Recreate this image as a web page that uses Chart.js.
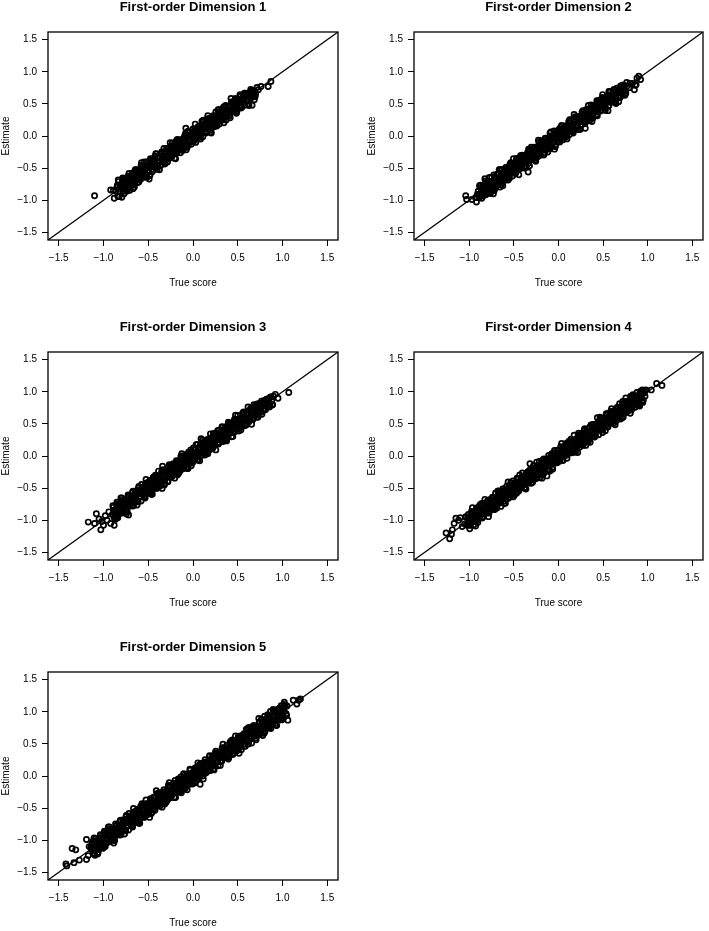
<!DOCTYPE html>
<html>
<head>
<meta charset="utf-8">
<script src="https://cdn.jsdelivr.net/npm/chart.js@4.4.1/dist/chart.umd.min.js"></script>
<style>
  body { margin: 0; background: #fff; width: 709px; height: 931px; position: relative; overflow: hidden; }
  canvas { position: absolute; }
</style>
</head>
<body>
<canvas id="p1" width="344" height="291" style="left:0;top:0"></canvas>
<canvas id="p2" width="343" height="291" style="left:366px;top:0"></canvas>
<canvas id="p3" width="344" height="291" style="left:0;top:320px"></canvas>
<canvas id="p4" width="343" height="291" style="left:366px;top:320px"></canvas>
<canvas id="p5" width="344" height="291" style="left:0;top:640px"></canvas>
<script>
// axis setup shared by all panels
const axisMin = -1.62, axisMax = 1.62;
const tickValues = [-1.5, -1, -0.5, 0, 0.5, 1, 1.5];
const diagonal = [-1.62, 1.62];
const panelTitles = ["First-order Dimension 1", "First-order Dimension 2", "First-order Dimension 3",
  "First-order Dimension 4", "First-order Dimension 5"];
const xTitle = "True score";
const yTitle = "Estimate";

// [true score, estimate]
const dim1 = [[-1.10,-0.93],[-0.92,-0.84],[-0.88,-0.97],[-0.89,-0.85],[-0.77,-0.90],[-0.67,-0.82],[-0.49,-0.67],[-0.08,0.12],[0.66,0.48],[0.73,0.72],[0.76,0.77],[0.84,0.77],[0.87,0.85],
[-0.86,-0.86],[-0.85,-0.80],[-0.84,-0.94],[-0.83,-0.71],[-0.82,-0.87],[-0.81,-0.79],[-0.80,-0.81],[-0.79,-0.70],[-0.78,-0.86],[-0.77,-0.66],[-0.76,-0.80],[-0.75,-0.69],[-0.74,-0.86],[-0.73,-0.70],[-0.72,-0.65],[-0.71,-0.73],[-0.70,-0.79],[-0.69,-0.65],[-0.68,-0.58],[-0.67,-0.73],[-0.66,-0.62],[-0.65,-0.72],[-0.64,-0.54],[-0.63,-0.65],[-0.62,-0.73],[-0.61,-0.55],[-0.60,-0.59],[-0.59,-0.64],[-0.58,-0.46],[-0.57,-0.66],[-0.56,-0.53],[-0.55,-0.47],[-0.54,-0.57],[-0.53,-0.63],[-0.52,-0.47],[-0.51,-0.40],[-0.50,-0.56],[-0.49,-0.49],[-0.48,-0.61],[-0.47,-0.40],[-0.46,-0.47],[-0.45,-0.36],[-0.44,-0.52],[-0.43,-0.41],[-0.42,-0.46],[-0.41,-0.28],[-0.40,-0.52],[-0.39,-0.33],[-0.38,-0.40],[-0.37,-0.34],[-0.36,-0.45],[-0.35,-0.25],[-0.34,-0.40],[-0.33,-0.32],[-0.32,-0.25],[-0.31,-0.42],[-0.30,-0.26],[-0.29,-0.32],[-0.28,-0.20],[-0.27,-0.34],[-0.26,-0.26],[-0.25,-0.20],[-0.24,-0.34],[-0.23,-0.11],[-0.22,-0.27],[-0.21,-0.19],[-0.20,-0.21],[-0.19,-0.10],[-0.18,-0.26],[-0.17,-0.06],[-0.16,-0.20],[-0.15,-0.09],[-0.14,-0.26],[-0.13,-0.10],[-0.12,-0.05],[-0.11,-0.13],[-0.10,-0.19],[-0.09,-0.05],[-0.08,0.02],[-0.07,-0.13],[-0.06,-0.02],[-0.05,-0.12],[-0.04,0.06],[-0.03,-0.05],[-0.02,-0.13],[-0.01,0.05],
[0.00,0.11],[0.01,-0.05],[0.02,0.02],[0.03,-0.10],[0.04,0.11],[0.05,0.04],[0.06,0.15],[0.07,-0.01],[0.08,0.10],[0.09,0.05],[0.10,0.23],[0.11,-0.01],[0.12,0.18],[0.13,0.11],[0.14,0.17],[0.15,0.06],[0.16,0.26],[0.17,0.11],[0.18,0.19],[0.19,0.26],[0.20,0.09],[0.21,0.25],[0.22,0.19],[0.23,0.31],[0.24,0.17],[0.25,0.25],[0.26,0.31],[0.27,0.17],[0.28,0.40],[0.29,0.24],[0.30,0.32],[0.31,0.30],[0.32,0.41],[0.33,0.25],[0.34,0.45],[0.35,0.31],[0.36,0.42],[0.37,0.25],[0.38,0.41],[0.39,0.46],[0.40,0.38],[0.41,0.32],[0.42,0.46],[0.43,0.53],[0.44,0.38],[0.45,0.49],[0.46,0.39],[0.47,0.57],[0.48,0.46],[0.49,0.38],[0.50,0.56],[0.51,0.52],[0.52,0.47],[0.53,0.62],[0.54,0.45],[0.55,0.58],[0.56,0.64],[0.57,0.54],[0.58,0.48],[0.59,0.64],[0.60,0.62],[0.61,0.55],[0.62,0.66],[0.63,0.60],[0.64,0.65],[0.66,0.61],[0.68,0.70],[0.70,0.66]];
const dim1Fill = [[-0.845,-0.765],[-0.825,-0.945],[-0.805,-0.775],[-0.785,-0.655],[-0.765,-0.825],[-0.745,-0.755],[-0.725,-0.625],[-0.705,-0.845],[-0.685,-0.635],[-0.665,-0.755],[-0.645,-0.525],[-0.625,-0.625],[-0.605,-0.715],[-0.585,-0.515],[-0.565,-0.605],[-0.545,-0.405],[-0.525,-0.605],[-0.505,-0.485],[-0.485,-0.615],[-0.465,-0.375],[-0.445,-0.475],[-0.425,-0.315],[-0.405,-0.475],[-0.385,-0.325],[-0.365,-0.465],[-0.345,-0.335],[-0.325,-0.195],[-0.305,-0.355],[-0.285,-0.405],[-0.265,-0.225],[-0.245,-0.155],[-0.225,-0.245],[-0.205,-0.345],[-0.185,-0.075],[-0.165,-0.225],[-0.145,-0.075],[-0.125,-0.215],[-0.105,-0.075],[-0.085,0.035],[-0.065,-0.175],[-0.045,0.005],[-0.025,-0.065],[-0.005,0.095],[0.015,-0.065],[0.035,0.035],[0.055,0.135],[0.075,-0.045],[0.095,0.125],[0.115,0.245],[0.135,0.075],[0.155,0.145],[0.175,0.275],[0.195,0.055],[0.215,0.265],[0.235,0.145],[0.255,0.375],[0.275,0.275],[0.295,0.185],[0.315,0.385],[0.335,0.295],[0.355,0.465],[0.375,0.295],[0.395,0.415],[0.415,0.285],[0.435,0.525],[0.455,0.425],[0.475,0.585],[0.495,0.425],[0.515,0.575],[0.535,0.435],[0.555,0.565],[0.575,0.665],[0.595,0.545],[0.615,0.495],[0.635,0.675],[0.655,0.705],[0.675,0.655],[0.695,0.615],[0.715,0.755],
[-0.835,-0.685],[-0.815,-0.855],[-0.795,-0.955],[-0.775,-0.685],[-0.755,-0.735],[-0.735,-0.845],[-0.715,-0.585],[-0.695,-0.765],[-0.675,-0.625],[-0.655,-0.795],[-0.635,-0.525],[-0.615,-0.625],[-0.595,-0.685],[-0.575,-0.415],[-0.555,-0.605],[-0.535,-0.465],[-0.515,-0.645],[-0.495,-0.465],[-0.475,-0.355],[-0.455,-0.555],[-0.435,-0.435],[-0.415,-0.275],[-0.395,-0.455],[-0.375,-0.525],[-0.355,-0.275],[-0.335,-0.295],[-0.315,-0.435],[-0.295,-0.195],[-0.275,-0.305],[-0.255,-0.105],[-0.235,-0.315],[-0.215,-0.205],[-0.195,-0.355],[-0.175,-0.055],[-0.155,-0.175],[-0.135,-0.075],[-0.115,-0.225],[-0.095,-0.005],[-0.075,-0.215],[-0.055,0.075],[-0.035,-0.085],[-0.015,0.005],[0.005,-0.085],[0.025,0.185],[0.045,-0.025],[0.065,0.115],[0.085,-0.045],[0.105,0.215],[0.125,0.115],[0.145,0.045],[0.165,0.315],[0.185,0.145],[0.205,0.045],[0.225,0.315],[0.245,0.265],[0.265,0.155],[0.285,0.415],[0.305,0.235],[0.325,0.375],[0.345,0.205],[0.365,0.475],[0.385,0.375],[0.405,0.315],[0.425,0.585],[0.445,0.395],[0.465,0.535],[0.485,0.355],[0.505,0.535],[0.525,0.645],[0.545,0.445],[0.565,0.565],[0.585,0.665],[0.605,0.545],[0.625,0.475],[0.645,0.725],[0.665,0.705],[0.685,0.565]];
const dim1Core = [[-0.815,-0.765],[-0.795,-0.825],[-0.775,-0.695],[-0.755,-0.825],[-0.735,-0.725],[-0.715,-0.805],[-0.695,-0.635],[-0.675,-0.695],[-0.655,-0.565],[-0.635,-0.685],[-0.615,-0.585],[-0.595,-0.675],[-0.575,-0.575],[-0.555,-0.485],[-0.535,-0.575],[-0.515,-0.495],[-0.495,-0.555],[-0.475,-0.385],[-0.455,-0.465],[-0.435,-0.395],[-0.415,-0.505],[-0.395,-0.335],[-0.375,-0.405],[-0.355,-0.275],[-0.335,-0.405],[-0.315,-0.305],[-0.295,-0.245],[-0.275,-0.355],[-0.255,-0.225],[-0.235,-0.255],[-0.215,-0.145],[-0.195,-0.245],[-0.175,-0.175],[-0.155,-0.065],[-0.135,-0.195],[-0.115,-0.095],[-0.095,-0.135],[-0.075,-0.015],[-0.055,-0.145],[-0.035,0.005],[-0.015,0.035],[0.005,-0.025],[0.025,0.105],[0.045,-0.025],[0.065,0.075],[0.085,-0.005],[0.105,0.165],[0.125,0.105],[0.145,0.235],[0.165,0.115],[0.185,0.215],[0.205,0.125],[0.225,0.225],[0.245,0.315],[0.265,0.225],[0.285,0.305],[0.305,0.245],[0.325,0.415],[0.345,0.335],[0.365,0.405],[0.385,0.295],[0.405,0.465],[0.425,0.395],[0.445,0.525],[0.465,0.395],[0.485,0.495],[0.505,0.555],[0.525,0.445],[0.545,0.575],[0.565,0.545],[0.585,0.655],[0.605,0.555],[0.625,0.625],[0.645,0.695],[0.665,0.605],[0.685,0.705]];

const dim2 = [[-1.04,-0.93],[-1.03,-0.99],[-0.97,-0.99],[-0.92,-1.03],[-0.93,-0.96],[-0.91,-0.91],[-0.73,-0.90],[-0.34,-0.56],[0.30,0.12],[0.80,0.82],[0.83,0.82],[0.85,0.72],[0.86,0.79],[0.87,0.80],[0.88,0.90],[0.90,0.93],[0.92,0.88],
[-0.90,-0.86],[-0.89,-0.96],[-0.88,-0.78],[-0.87,-0.89],[-0.86,-0.97],[-0.85,-0.79],[-0.84,-0.83],[-0.83,-0.88],[-0.82,-0.70],[-0.81,-0.90],[-0.80,-0.77],[-0.79,-0.71],[-0.78,-0.81],[-0.77,-0.87],[-0.76,-0.71],[-0.75,-0.64],[-0.74,-0.80],[-0.73,-0.73],[-0.72,-0.85],[-0.71,-0.64],[-0.70,-0.71],[-0.69,-0.60],[-0.68,-0.76],[-0.67,-0.65],[-0.66,-0.70],[-0.65,-0.52],[-0.64,-0.76],[-0.63,-0.57],[-0.62,-0.64],[-0.61,-0.58],[-0.60,-0.69],[-0.59,-0.49],[-0.58,-0.64],[-0.57,-0.56],[-0.56,-0.49],[-0.55,-0.66],[-0.54,-0.50],[-0.53,-0.56],[-0.52,-0.44],[-0.51,-0.58],[-0.50,-0.50],[-0.49,-0.44],[-0.48,-0.58],[-0.47,-0.35],[-0.46,-0.51],[-0.45,-0.43],[-0.44,-0.45],[-0.43,-0.34],[-0.42,-0.50],[-0.41,-0.30],[-0.40,-0.44],[-0.39,-0.33],[-0.38,-0.50],[-0.37,-0.34],[-0.36,-0.29],[-0.35,-0.37],[-0.34,-0.43],[-0.33,-0.29],[-0.32,-0.22],[-0.31,-0.37],
[-0.30,-0.26],[-0.29,-0.36],[-0.28,-0.18],[-0.27,-0.29],[-0.26,-0.37],[-0.25,-0.19],[-0.24,-0.23],[-0.23,-0.28],[-0.22,-0.10],[-0.21,-0.30],[-0.20,-0.17],[-0.19,-0.11],[-0.18,-0.21],[-0.17,-0.27],[-0.16,-0.11],[-0.15,-0.04],[-0.14,-0.20],[-0.13,-0.13],[-0.12,-0.25],[-0.11,-0.04],[-0.10,-0.11],[-0.09,0.00],[-0.08,-0.16],[-0.07,-0.05],[-0.06,-0.10],[-0.05,0.08],[-0.04,-0.16],[-0.03,0.03],[-0.02,-0.04],[-0.01,0.02],[0.00,-0.09],[0.01,0.11],[0.02,-0.04],[0.03,0.04],[0.04,0.11],[0.05,-0.06],[0.06,0.10],[0.07,0.04],[0.08,0.16],[0.09,0.02],[0.10,0.10],[0.11,0.16],[0.12,0.02],[0.13,0.25],[0.14,0.09],[0.15,0.17],[0.16,0.15],[0.17,0.26],[0.18,0.10],[0.19,0.30],[0.20,0.16],[0.21,0.27],[0.22,0.10],[0.23,0.26],[0.24,0.31],[0.25,0.23],[0.26,0.17],[0.27,0.31],[0.28,0.38],[0.29,0.23],
[0.30,0.21],[0.31,0.41],[0.32,0.26],[0.33,0.34],[0.34,0.41],[0.35,0.24],[0.36,0.40],[0.37,0.34],[0.38,0.46],[0.39,0.32],[0.40,0.40],[0.41,0.46],[0.42,0.32],[0.43,0.55],[0.44,0.39],[0.45,0.47],[0.46,0.45],[0.47,0.56],[0.48,0.40],[0.49,0.60],[0.50,0.46],[0.51,0.57],[0.52,0.40],[0.53,0.56],[0.54,0.61],[0.55,0.53],[0.56,0.47],[0.57,0.61],[0.58,0.68],[0.59,0.53],[0.60,0.64],[0.61,0.54],[0.62,0.72],[0.63,0.61],[0.64,0.53],[0.65,0.71],[0.66,0.67],[0.67,0.62],[0.68,0.71],[0.69,0.60],[0.70,0.73],[0.71,0.68],[0.72,0.64],[0.73,0.75],[0.75,0.70],[0.77,0.78],[0.79,0.75]];
const dim2Fill = [[-0.895,-0.925],[-0.875,-0.765],[-0.855,-0.925],[-0.835,-0.775],[-0.815,-0.915],[-0.795,-0.785],[-0.775,-0.645],[-0.755,-0.805],[-0.735,-0.855],[-0.715,-0.675],[-0.695,-0.605],[-0.675,-0.695],[-0.655,-0.795],[-0.635,-0.525],[-0.615,-0.675],[-0.595,-0.525],[-0.575,-0.665],[-0.555,-0.525],[-0.535,-0.415],[-0.515,-0.625],[-0.495,-0.445],[-0.475,-0.515],[-0.455,-0.355],[-0.435,-0.515],[-0.415,-0.415],[-0.395,-0.315],[-0.375,-0.495],[-0.355,-0.325],[-0.335,-0.205],[-0.315,-0.375],[-0.295,-0.305],[-0.275,-0.175],[-0.255,-0.395],[-0.235,-0.185],[-0.215,-0.305],[-0.195,-0.075],[-0.175,-0.175],[-0.155,-0.265],[-0.135,-0.065],[-0.115,-0.155],[-0.095,0.045],[-0.075,-0.155],[-0.055,-0.035],[-0.035,-0.165],[-0.015,0.075],[0.005,-0.025],[0.025,0.135],[0.045,-0.025],[0.065,0.125],[0.085,-0.015],[0.105,0.115],[0.125,0.255],[0.145,0.095],[0.165,0.045],[0.185,0.225],[0.205,0.295],[0.225,0.205],[0.245,0.105],[0.265,0.375],[0.285,0.225],[0.305,0.375],[0.325,0.235],[0.345,0.375],[0.365,0.485],[0.385,0.275],[0.405,0.455],[0.425,0.385],[0.445,0.545],[0.465,0.385],[0.485,0.485],[0.505,0.585],[0.525,0.405],[0.545,0.575],[0.565,0.695],[0.585,0.525],[0.605,0.595],[0.625,0.725],[0.645,0.505],[0.665,0.715],[0.685,0.595],[0.705,0.785],[0.725,0.725],[0.745,0.635],[0.765,0.835],
[-0.885,-0.775],[-0.865,-0.875],[-0.845,-0.935],[-0.825,-0.665],[-0.805,-0.855],[-0.785,-0.715],[-0.765,-0.895],[-0.745,-0.715],[-0.725,-0.605],[-0.705,-0.805],[-0.685,-0.685],[-0.665,-0.525],[-0.645,-0.705],[-0.625,-0.775],[-0.605,-0.525],[-0.585,-0.545],[-0.565,-0.685],[-0.545,-0.445],[-0.525,-0.555],[-0.505,-0.355],[-0.485,-0.565],[-0.465,-0.455],[-0.445,-0.605],[-0.425,-0.305],[-0.405,-0.425],[-0.385,-0.325],[-0.365,-0.475],[-0.345,-0.255],[-0.325,-0.465],[-0.305,-0.175],[-0.285,-0.335],[-0.265,-0.245],[-0.245,-0.335],[-0.225,-0.065],[-0.205,-0.275],[-0.185,-0.135],[-0.165,-0.295],[-0.145,-0.035],[-0.125,-0.135],[-0.105,-0.205],[-0.085,0.065],[-0.065,-0.105],[-0.045,-0.205],[-0.025,0.065],[-0.005,0.015],[0.015,-0.095],[0.035,0.165],[0.055,-0.015],[0.075,0.125],[0.095,-0.045],[0.115,0.225],[0.135,0.125],[0.155,0.065],[0.175,0.335],[0.195,0.145],[0.215,0.285],[0.235,0.105],[0.255,0.285],[0.275,0.395],[0.295,0.195],[0.315,0.315],[0.335,0.475],[0.355,0.295],[0.375,0.225],[0.395,0.475],[0.415,0.455],[0.435,0.315],[0.455,0.555],[0.475,0.445],[0.495,0.645],[0.515,0.435],[0.535,0.545],[0.555,0.395],[0.575,0.695],[0.595,0.575],[0.615,0.675],[0.635,0.525],[0.655,0.745],[0.675,0.535],[0.695,0.775],[0.715,0.665],[0.735,0.755],[0.755,0.665]];
const dim2Core = [[-0.875,-0.805],[-0.855,-0.895],[-0.835,-0.815],[-0.815,-0.875],[-0.795,-0.705],[-0.775,-0.785],[-0.755,-0.715],[-0.735,-0.825],[-0.715,-0.655],[-0.695,-0.725],[-0.675,-0.595],[-0.655,-0.725],[-0.635,-0.625],[-0.615,-0.565],[-0.595,-0.675],[-0.575,-0.545],[-0.555,-0.575],[-0.535,-0.465],[-0.515,-0.565],[-0.495,-0.495],[-0.475,-0.385],[-0.455,-0.515],[-0.435,-0.415],[-0.415,-0.455],[-0.395,-0.335],[-0.375,-0.465],[-0.355,-0.315],[-0.335,-0.285],[-0.315,-0.345],[-0.295,-0.215],[-0.275,-0.345],[-0.255,-0.245],[-0.235,-0.325],[-0.215,-0.155],[-0.195,-0.215],[-0.175,-0.085],[-0.155,-0.205],[-0.135,-0.105],[-0.115,-0.195],[-0.095,-0.095],[-0.075,-0.005],[-0.055,-0.095],[-0.035,-0.015],[-0.015,-0.075],[0.005,0.095],[0.025,0.015],[0.045,0.085],[0.065,-0.025],[0.085,0.145],[0.105,0.075],[0.125,0.205],[0.145,0.075],[0.165,0.175],[0.185,0.235],[0.205,0.125],[0.225,0.255],[0.245,0.225],[0.265,0.335],[0.285,0.235],[0.305,0.305],[0.325,0.415],[0.345,0.285],[0.365,0.385],[0.385,0.345],[0.405,0.465],[0.425,0.335],[0.445,0.485],[0.465,0.515],[0.485,0.455],[0.505,0.585],[0.525,0.455],[0.545,0.555],[0.565,0.475],[0.585,0.645],[0.605,0.585],[0.625,0.715],[0.645,0.595],[0.665,0.695],[0.685,0.605],[0.705,0.705],[0.725,0.795],[0.745,0.705]];

const dim3 = [[-1.17,-1.03],[-1.10,-1.05],[-1.08,-0.90],[-1.05,-0.98],[-1.03,-1.15],[-1.02,-1.02],[-1.00,-1.08],[-0.98,-0.93],[-0.96,-1.00],[-0.94,-0.87],[-0.92,-1.05],[-0.88,-1.08],[-0.72,-0.92],[-0.34,-0.16],[0.09,0.27],[0.90,0.93],[0.92,0.96],[0.95,0.90],[1.07,0.99],
[-0.90,-0.91],[-0.89,-0.80],[-0.88,-0.96],[-0.87,-0.85],[-0.86,-0.90],[-0.85,-0.72],[-0.84,-0.96],[-0.83,-0.77],[-0.82,-0.84],[-0.81,-0.78],[-0.80,-0.89],[-0.79,-0.69],[-0.78,-0.84],[-0.77,-0.76],[-0.76,-0.69],[-0.75,-0.86],[-0.74,-0.70],[-0.73,-0.76],[-0.72,-0.64],[-0.71,-0.78],[-0.70,-0.70],[-0.69,-0.64],[-0.68,-0.78],[-0.67,-0.55],[-0.66,-0.71],[-0.65,-0.63],[-0.64,-0.65],[-0.63,-0.54],[-0.62,-0.70],[-0.61,-0.50],[-0.60,-0.64],[-0.59,-0.53],[-0.58,-0.70],[-0.57,-0.54],[-0.56,-0.49],[-0.55,-0.57],[-0.54,-0.63],[-0.53,-0.49],[-0.52,-0.42],[-0.51,-0.57],[-0.50,-0.46],[-0.49,-0.56],[-0.48,-0.38],[-0.47,-0.49],[-0.46,-0.57],[-0.45,-0.39],[-0.44,-0.43],[-0.43,-0.48],[-0.42,-0.30],[-0.41,-0.50],[-0.40,-0.37],[-0.39,-0.31],[-0.38,-0.41],[-0.37,-0.47],[-0.36,-0.31],[-0.35,-0.24],[-0.34,-0.40],[-0.33,-0.33],[-0.32,-0.45],[-0.31,-0.24],
[-0.30,-0.34],[-0.29,-0.23],[-0.28,-0.40],[-0.27,-0.24],[-0.26,-0.19],[-0.25,-0.27],[-0.24,-0.33],[-0.23,-0.19],[-0.22,-0.12],[-0.21,-0.27],[-0.20,-0.16],[-0.19,-0.26],[-0.18,-0.08],[-0.17,-0.19],[-0.16,-0.27],[-0.15,-0.09],[-0.14,-0.13],[-0.13,-0.18],[-0.12,0.00],[-0.11,-0.20],[-0.10,-0.07],[-0.09,-0.01],[-0.08,-0.11],[-0.07,-0.17],[-0.06,-0.01],[-0.05,0.06],[-0.04,-0.10],[-0.03,-0.03],[-0.02,-0.15],[-0.01,0.06],[0.00,-0.01],[0.01,0.10],[0.02,-0.06],[0.03,0.05],[0.04,0.00],[0.05,0.18],[0.06,-0.06],[0.07,0.13],[0.08,0.06],[0.09,0.12],[0.10,0.01],[0.11,0.21],[0.12,0.06],[0.13,0.14],[0.14,0.21],[0.15,0.04],[0.16,0.20],[0.17,0.14],[0.18,0.26],[0.19,0.12],[0.20,0.20],[0.21,0.26],[0.22,0.12],[0.23,0.35],[0.24,0.19],[0.25,0.27],[0.26,0.25],[0.27,0.36],[0.28,0.20],[0.29,0.40],
[0.30,0.36],[0.31,0.32],[0.32,0.27],[0.33,0.45],[0.34,0.25],[0.35,0.38],[0.36,0.44],[0.37,0.34],[0.38,0.28],[0.39,0.44],[0.40,0.51],[0.41,0.35],[0.42,0.42],[0.43,0.30],[0.44,0.51],[0.45,0.44],[0.46,0.55],[0.47,0.39],[0.48,0.50],[0.49,0.45],[0.50,0.63],[0.51,0.39],[0.52,0.58],[0.53,0.51],[0.54,0.57],[0.55,0.46],[0.56,0.66],[0.57,0.51],[0.58,0.59],[0.59,0.66],[0.60,0.49],[0.61,0.65],[0.62,0.59],[0.63,0.71],[0.64,0.57],[0.65,0.65],[0.66,0.71],[0.67,0.57],[0.68,0.80],[0.69,0.64],[0.70,0.72],[0.71,0.70],[0.72,0.81],[0.73,0.65],[0.74,0.80],[0.75,0.71],[0.76,0.82],[0.77,0.65],[0.78,0.81],[0.79,0.86],[0.80,0.78],[0.81,0.72],[0.82,0.86],[0.83,0.89],[0.84,0.78],[0.85,0.89],[0.86,0.79],[0.87,0.92],[0.88,0.86],[0.89,0.80]];
const dim3Fill = [[-0.895,-0.775],[-0.875,-0.875],[-0.855,-0.965],[-0.835,-0.765],[-0.815,-0.855],[-0.795,-0.655],[-0.775,-0.855],[-0.755,-0.735],[-0.735,-0.865],[-0.715,-0.625],[-0.695,-0.725],[-0.675,-0.565],[-0.655,-0.725],[-0.635,-0.575],[-0.615,-0.715],[-0.595,-0.585],[-0.575,-0.445],[-0.555,-0.605],[-0.535,-0.655],[-0.515,-0.475],[-0.495,-0.405],[-0.475,-0.495],[-0.455,-0.595],[-0.435,-0.325],[-0.415,-0.475],[-0.395,-0.325],[-0.375,-0.465],[-0.355,-0.325],[-0.335,-0.215],[-0.315,-0.425],[-0.295,-0.245],[-0.275,-0.315],[-0.255,-0.155],[-0.235,-0.315],[-0.215,-0.215],[-0.195,-0.115],[-0.175,-0.295],[-0.155,-0.125],[-0.135,-0.005],[-0.115,-0.175],[-0.095,-0.105],[-0.075,0.025],[-0.055,-0.195],[-0.035,0.015],[-0.015,-0.105],[0.005,0.125],[0.025,0.025],[0.045,-0.065],[0.065,0.135],[0.085,0.045],[0.105,0.245],[0.125,0.045],[0.145,0.165],[0.165,0.035],[0.185,0.275],[0.205,0.175],[0.225,0.335],[0.245,0.175],[0.265,0.325],[0.285,0.185],[0.305,0.315],[0.325,0.455],[0.345,0.295],[0.365,0.245],[0.385,0.425],[0.405,0.495],[0.425,0.405],[0.445,0.305],[0.465,0.575],[0.485,0.425],[0.505,0.575],[0.525,0.435],[0.545,0.575],[0.565,0.685],[0.585,0.475],[0.605,0.655],[0.625,0.585],[0.645,0.745],[0.665,0.585],[0.685,0.685],[0.705,0.785],[0.725,0.605],[0.745,0.775],[0.765,0.855],[0.785,0.725],[0.805,0.795],[0.825,0.885],[0.845,0.765],[0.865,0.915],[0.885,0.795],
[-0.885,-0.845],[-0.865,-0.985],[-0.845,-0.745],[-0.825,-0.855],[-0.805,-0.655],[-0.785,-0.865],[-0.765,-0.755],[-0.745,-0.905],[-0.725,-0.605],[-0.705,-0.725],[-0.685,-0.625],[-0.665,-0.775],[-0.645,-0.555],[-0.625,-0.765],[-0.605,-0.475],[-0.585,-0.635],[-0.565,-0.545],[-0.545,-0.635],[-0.525,-0.365],[-0.505,-0.575],[-0.485,-0.435],[-0.465,-0.595],[-0.445,-0.335],[-0.425,-0.435],[-0.405,-0.505],[-0.385,-0.235],[-0.365,-0.405],[-0.345,-0.505],[-0.325,-0.235],[-0.305,-0.285],[-0.285,-0.395],[-0.265,-0.135],[-0.245,-0.315],[-0.225,-0.175],[-0.205,-0.345],[-0.185,-0.075],[-0.165,-0.175],[-0.145,-0.235],[-0.125,0.035],[-0.105,-0.155],[-0.085,-0.015],[-0.065,-0.195],[-0.045,-0.015],[-0.025,0.095],[-0.005,-0.105],[0.015,0.015],[0.035,0.175],[0.055,-0.005],[0.075,-0.075],[0.095,0.175],[0.115,0.155],[0.135,0.015],[0.155,0.255],[0.175,0.145],[0.195,0.345],[0.215,0.135],[0.235,0.245],[0.255,0.095],[0.275,0.395],[0.295,0.275],[0.315,0.375],[0.335,0.225],[0.355,0.445],[0.375,0.235],[0.395,0.525],[0.415,0.365],[0.435,0.455],[0.455,0.365],[0.475,0.635],[0.495,0.425],[0.515,0.565],[0.535,0.405],[0.555,0.665],[0.575,0.565],[0.595,0.495],[0.615,0.765],[0.635,0.595],[0.655,0.495],[0.675,0.765],[0.695,0.715],[0.715,0.605],[0.735,0.815],[0.755,0.685],[0.775,0.825],[0.795,0.715],[0.815,0.875],[0.835,0.825],[0.855,0.765]];
const dim3Core = [[-0.875,-0.865],[-0.855,-0.805],[-0.835,-0.915],[-0.815,-0.785],[-0.795,-0.815],[-0.775,-0.705],[-0.755,-0.805],[-0.735,-0.735],[-0.715,-0.625],[-0.695,-0.755],[-0.675,-0.655],[-0.655,-0.695],[-0.635,-0.575],[-0.615,-0.705],[-0.595,-0.555],[-0.575,-0.525],[-0.555,-0.585],[-0.535,-0.455],[-0.515,-0.585],[-0.495,-0.485],[-0.475,-0.565],[-0.455,-0.395],[-0.435,-0.455],[-0.415,-0.325],[-0.395,-0.445],[-0.375,-0.345],[-0.355,-0.435],[-0.335,-0.335],[-0.315,-0.245],[-0.295,-0.335],[-0.275,-0.255],[-0.255,-0.315],[-0.235,-0.145],[-0.215,-0.225],[-0.195,-0.155],[-0.175,-0.265],[-0.155,-0.095],[-0.135,-0.165],[-0.115,-0.035],[-0.095,-0.165],[-0.075,-0.065],[-0.055,-0.005],[-0.035,-0.115],[-0.015,0.015],[0.005,-0.015],[0.025,0.095],[0.045,-0.005],[0.065,0.065],[0.085,0.175],[0.105,0.045],[0.125,0.145],[0.145,0.105],[0.165,0.225],[0.185,0.095],[0.205,0.245],[0.225,0.275],[0.245,0.215],[0.265,0.345],[0.285,0.215],[0.305,0.315],[0.325,0.235],[0.345,0.405],[0.365,0.345],[0.385,0.475],[0.405,0.355],[0.425,0.455],[0.445,0.365],[0.465,0.465],[0.485,0.555],[0.505,0.465],[0.525,0.545],[0.545,0.485],[0.565,0.655],[0.585,0.575],[0.605,0.645],[0.625,0.535],[0.645,0.705],[0.665,0.635],[0.685,0.765],[0.705,0.635],[0.725,0.735],[0.745,0.795],[0.765,0.685],[0.785,0.815],[0.805,0.785],[0.825,0.875],[0.845,0.795]];

const dim4 = [[-1.26,-1.20],[-1.22,-1.29],[-1.20,-1.22],[-1.19,-1.15],[-1.17,-1.05],[-1.15,-0.97],[-1.12,-1.00],[-1.10,-0.96],[-1.08,-1.10],[-1.05,-1.06],[-1.04,-0.95],[-0.93,-1.09],[-0.32,-0.12],[-0.13,-0.31],[0.90,0.83],[1.04,1.03],[1.10,1.13],[1.16,1.10],
[-1.02,-1.08],[-1.01,-0.91],[-1.00,-0.96],[-0.99,-1.08],[-0.98,-1.00],[-0.97,-0.90],[-0.96,-0.93],[-0.95,-1.07],[-0.94,-0.88],[-0.93,-0.97],[-0.92,-0.81],[-0.91,-0.99],[-0.90,-0.81],[-0.89,-0.90],[-0.88,-0.86],[-0.87,-0.92],[-0.86,-0.74],[-0.85,-0.95],[-0.84,-0.79],[-0.83,-0.83],[-0.82,-0.89],[-0.81,-0.73],[-0.80,-0.83],[-0.79,-0.75],[-0.78,-0.89],[-0.77,-0.70],[-0.76,-0.75],[-0.75,-0.81],[-0.74,-0.64],[-0.73,-0.82],[-0.72,-0.69],[-0.71,-0.73],[-0.70,-0.64],[-0.69,-0.81],[-0.68,-0.55],[-0.67,-0.71],[-0.66,-0.64],[-0.65,-0.73],[-0.64,-0.55],[-0.63,-0.64],[-0.62,-0.55],[-0.61,-0.74],[-0.60,-0.60],[-0.59,-0.65],[-0.58,-0.47],[-0.57,-0.52],[-0.56,-0.66],[-0.55,-0.58],[-0.54,-0.46],[-0.53,-0.50],[-0.52,-0.61],[-0.51,-0.39],[-0.50,-0.55],[-0.49,-0.48],[-0.48,-0.42],[-0.47,-0.58],[-0.46,-0.48],[-0.45,-0.35],[-0.44,-0.51],[-0.43,-0.39],
[-0.42,-0.49],[-0.41,-0.33],[-0.40,-0.43],[-0.39,-0.35],[-0.38,-0.49],[-0.37,-0.30],[-0.36,-0.35],[-0.35,-0.41],[-0.34,-0.24],[-0.33,-0.42],[-0.32,-0.29],[-0.31,-0.33],[-0.30,-0.24],[-0.29,-0.41],[-0.28,-0.15],[-0.27,-0.31],[-0.26,-0.24],[-0.25,-0.33],[-0.24,-0.15],[-0.23,-0.24],[-0.22,-0.15],[-0.21,-0.34],[-0.20,-0.20],[-0.19,-0.25],[-0.18,-0.07],[-0.17,-0.12],[-0.16,-0.26],[-0.15,-0.18],[-0.14,-0.06],[-0.13,-0.10],[-0.12,-0.21],[-0.11,0.01],[-0.10,-0.15],[-0.09,-0.08],[-0.08,-0.02],[-0.07,-0.18],[-0.06,-0.08],[-0.05,0.05],[-0.04,-0.11],[-0.03,0.01],[-0.02,-0.08],[-0.01,0.09],[0.00,0.04],[0.01,-0.08],[0.02,0.00],[0.03,0.10],[0.04,0.07],[0.05,-0.07],[0.06,0.12],[0.07,0.03],[0.08,0.19],[0.09,0.01],[0.10,0.19],[0.11,0.10],[0.12,0.14],[0.13,0.08],[0.14,0.26],[0.15,0.05],[0.16,0.21],[0.17,0.17],
[0.18,0.25],[0.19,0.06],[0.20,0.20],[0.21,0.15],[0.22,0.33],[0.23,0.28],[0.24,0.14],[0.25,0.22],[0.26,0.34],[0.27,0.30],[0.28,0.19],[0.29,0.41],[0.30,0.25],[0.31,0.32],[0.32,0.38],[0.33,0.22],[0.34,0.32],[0.35,0.45],[0.36,0.29],[0.37,0.41],[0.38,0.32],[0.39,0.49],[0.40,0.44],[0.41,0.32],[0.42,0.40],[0.43,0.50],[0.44,0.47],[0.45,0.33],[0.46,0.52],[0.47,0.43],[0.48,0.59],[0.49,0.41],[0.50,0.59],[0.51,0.50],[0.52,0.54],[0.53,0.48],[0.54,0.66],[0.55,0.45],[0.56,0.61],[0.57,0.57],[0.58,0.51],[0.59,0.67],[0.60,0.57],[0.61,0.65],[0.62,0.51],[0.63,0.70],[0.64,0.65],[0.65,0.59],[0.66,0.76],[0.67,0.58],[0.68,0.71],[0.69,0.67],[0.70,0.76],[0.71,0.59],[0.72,0.85],[0.73,0.69],[0.74,0.76],[0.75,0.67],[0.76,0.85],[0.77,0.76],
[0.78,0.84],[0.79,0.80],[0.80,0.75],[0.81,0.93],[0.82,0.73],[0.83,0.86],[0.84,0.92],[0.85,0.82],[0.86,0.76],[0.87,0.92],[0.88,0.99],[0.89,0.83],[0.90,0.90],[0.91,0.78],[0.92,0.99],[0.93,0.92],[0.94,1.03],[0.95,0.87],[0.96,0.98],[0.97,0.93],[0.98,1.03]];
const dim4Fill = [[-1.035,-0.945],[-1.015,-1.035],[-0.995,-1.135],[-0.975,-0.865],[-0.955,-1.015],[-0.935,-0.865],[-0.915,-1.005],[-0.895,-0.865],[-0.875,-0.755],[-0.855,-0.965],[-0.835,-0.785],[-0.815,-0.855],[-0.795,-0.695],[-0.775,-0.855],[-0.755,-0.755],[-0.735,-0.655],[-0.715,-0.835],[-0.695,-0.665],[-0.675,-0.545],[-0.655,-0.715],[-0.635,-0.645],[-0.615,-0.515],[-0.595,-0.735],[-0.575,-0.525],[-0.555,-0.645],[-0.535,-0.415],[-0.515,-0.515],[-0.495,-0.605],[-0.475,-0.405],[-0.455,-0.495],[-0.435,-0.295],[-0.415,-0.495],[-0.395,-0.375],[-0.375,-0.505],[-0.355,-0.265],[-0.335,-0.365],[-0.315,-0.205],[-0.295,-0.365],[-0.275,-0.215],[-0.255,-0.355],[-0.235,-0.225],[-0.215,-0.085],[-0.195,-0.245],[-0.175,-0.295],[-0.155,-0.115],[-0.135,-0.045],[-0.115,-0.135],[-0.095,-0.235],[-0.075,0.035],[-0.055,-0.115],[-0.035,0.035],[-0.015,-0.105],[0.005,0.035],[0.025,0.145],[0.045,-0.065],[0.065,0.115],[0.085,0.045],[0.105,0.205],[0.125,0.045],[0.145,0.145],[0.165,0.245],[0.185,0.065],[0.205,0.235],[0.225,0.355],[0.245,0.185],[0.265,0.255],[0.285,0.385],[0.305,0.165],[0.325,0.375],[0.345,0.255],[0.365,0.485],[0.385,0.385],[0.405,0.295],[0.425,0.495],[0.445,0.405],[0.465,0.605],[0.485,0.405],[0.505,0.525],[0.525,0.395],[0.545,0.635],[0.565,0.535],[0.585,0.695],[0.605,0.535],[0.625,0.685],[0.645,0.545],[0.665,0.675],[0.685,0.815],[0.705,0.655],[0.725,0.605],[0.745,0.785],[0.765,0.855],[0.785,0.765],[0.805,0.665],[0.825,0.935],[0.845,0.785],[0.865,0.935],[0.885,0.795],[0.905,0.935],[0.925,0.985],[0.945,0.835],[0.965,1.015],
[-1.025,-1.075],[-1.005,-0.985],[-0.985,-1.075],[-0.965,-0.805],[-0.945,-1.015],[-0.925,-0.875],[-0.905,-1.035],[-0.885,-0.775],[-0.865,-0.875],[-0.845,-0.945],[-0.825,-0.675],[-0.805,-0.845],[-0.785,-0.945],[-0.765,-0.675],[-0.745,-0.725],[-0.725,-0.835],[-0.705,-0.575],[-0.685,-0.755],[-0.665,-0.615],[-0.645,-0.785],[-0.625,-0.515],[-0.605,-0.615],[-0.585,-0.675],[-0.565,-0.405],[-0.545,-0.595],[-0.525,-0.455],[-0.505,-0.635],[-0.485,-0.455],[-0.465,-0.345],[-0.445,-0.545],[-0.425,-0.425],[-0.405,-0.265],[-0.385,-0.445],[-0.365,-0.515],[-0.345,-0.265],[-0.325,-0.285],[-0.305,-0.425],[-0.285,-0.185],[-0.265,-0.295],[-0.245,-0.095],[-0.225,-0.305],[-0.205,-0.195],[-0.185,-0.345],[-0.165,-0.045],[-0.145,-0.165],[-0.125,-0.065],[-0.105,-0.215],[-0.085,0.005],[-0.065,-0.205],[-0.045,0.085],[-0.025,-0.075],[-0.005,0.015],[0.015,-0.075],[0.035,0.195],[0.055,-0.015],[0.075,0.125],[0.095,-0.035],[0.115,0.225],[0.135,0.125],[0.155,0.055],[0.175,0.325],[0.195,0.155],[0.215,0.055],[0.235,0.325],[0.255,0.275],[0.275,0.165],[0.295,0.425],[0.315,0.245],[0.335,0.385],[0.355,0.215],[0.375,0.485],[0.395,0.385],[0.415,0.325],[0.435,0.595],[0.455,0.405],[0.475,0.545],[0.495,0.365],[0.515,0.545],[0.535,0.655],[0.555,0.455],[0.575,0.575],[0.595,0.735],[0.615,0.555],[0.635,0.485],[0.655,0.735],[0.675,0.715],[0.695,0.575],[0.715,0.815],[0.735,0.705],[0.755,0.905],[0.775,0.695],[0.795,0.805],[0.815,0.715],[0.835,0.955],[0.855,0.835],[0.875,0.935],[0.895,0.785],[0.915,1.005],[0.935,0.855]];
const dim4Core = [[-1.015,-0.965],[-0.995,-1.025],[-0.975,-0.895],[-0.955,-1.025],[-0.935,-0.925],[-0.915,-1.005],[-0.895,-0.835],[-0.875,-0.895],[-0.855,-0.765],[-0.835,-0.885],[-0.815,-0.785],[-0.795,-0.875],[-0.775,-0.775],[-0.755,-0.685],[-0.735,-0.775],[-0.715,-0.695],[-0.695,-0.755],[-0.675,-0.585],[-0.655,-0.665],[-0.635,-0.595],[-0.615,-0.705],[-0.595,-0.535],[-0.575,-0.605],[-0.555,-0.475],[-0.535,-0.605],[-0.515,-0.505],[-0.495,-0.445],[-0.475,-0.555],[-0.455,-0.425],[-0.435,-0.455],[-0.415,-0.345],[-0.395,-0.445],[-0.375,-0.375],[-0.355,-0.265],[-0.335,-0.395],[-0.315,-0.295],[-0.295,-0.335],[-0.275,-0.215],[-0.255,-0.345],[-0.235,-0.195],[-0.215,-0.165],[-0.195,-0.225],[-0.175,-0.095],[-0.155,-0.225],[-0.135,-0.125],[-0.115,-0.205],[-0.095,-0.035],[-0.075,-0.095],[-0.055,0.035],[-0.035,-0.085],[-0.015,0.015],[0.005,-0.075],[0.025,0.025],[0.045,0.115],[0.065,0.025],[0.085,0.105],[0.105,0.045],[0.125,0.215],[0.145,0.135],[0.165,0.205],[0.185,0.095],[0.205,0.265],[0.225,0.195],[0.245,0.325],[0.265,0.195],[0.285,0.295],[0.305,0.355],[0.325,0.245],[0.345,0.375],[0.365,0.345],[0.385,0.455],[0.405,0.355],[0.425,0.425],[0.445,0.535],[0.465,0.405],[0.485,0.505],[0.505,0.465],[0.525,0.585],[0.545,0.455],[0.565,0.605],[0.585,0.635],[0.605,0.575],[0.625,0.705],[0.645,0.575],[0.665,0.675],[0.685,0.595],[0.705,0.765],[0.725,0.705],[0.745,0.835],[0.765,0.715],[0.785,0.815],[0.805,0.725],[0.825,0.825],[0.845,0.915],[0.865,0.825],[0.885,0.905],[0.905,0.845],[0.925,0.985]];

const dim5 = [[-1.42,-1.37],[-1.41,-1.40],[-1.35,-1.13],[-1.31,-1.15],[-1.33,-1.35],[-1.27,-1.31],[-1.19,-0.99],[-1.19,-1.30],[-1.17,-1.24],[-1.16,-1.10],[-0.57,-0.43],[-0.41,-0.23],[0.08,-0.13],[0.78,0.63],[1.02,1.15],[1.06,0.87],[1.12,1.18],[1.16,1.12],[1.18,1.18],[1.20,1.20],
[-1.14,-1.11],[-1.13,-1.05],[-1.12,-1.15],[-1.11,-1.21],[-1.10,-1.05],[-1.09,-0.98],[-1.08,-1.14],[-1.07,-1.07],[-1.06,-1.19],[-1.05,-0.98],[-1.04,-1.05],[-1.03,-0.94],[-1.02,-1.10],[-1.01,-0.99],[-1.00,-1.04],[-0.99,-0.86],[-0.98,-1.10],[-0.97,-0.91],[-0.96,-0.98],[-0.95,-0.92],[-0.94,-1.03],[-0.93,-0.83],[-0.92,-0.98],[-0.91,-0.90],[-0.90,-0.83],[-0.89,-1.00],[-0.88,-0.84],[-0.87,-0.90],[-0.86,-0.78],[-0.85,-0.92],[-0.84,-0.84],[-0.83,-0.78],[-0.82,-0.92],[-0.81,-0.69],[-0.80,-0.85],[-0.79,-0.77],[-0.78,-0.79],[-0.77,-0.68],[-0.76,-0.84],[-0.75,-0.64],[-0.74,-0.78],[-0.73,-0.67],[-0.72,-0.84],[-0.71,-0.68],[-0.70,-0.63],[-0.69,-0.71],[-0.68,-0.77],[-0.67,-0.63],[-0.66,-0.56],[-0.65,-0.71],[-0.64,-0.60],[-0.63,-0.70],[-0.62,-0.52],[-0.61,-0.63],[-0.60,-0.71],[-0.59,-0.53],[-0.58,-0.57],[-0.57,-0.62],[-0.56,-0.44],[-0.55,-0.64],
[-0.54,-0.60],[-0.53,-0.43],[-0.52,-0.48],[-0.51,-0.60],[-0.50,-0.52],[-0.49,-0.42],[-0.48,-0.45],[-0.47,-0.59],[-0.46,-0.40],[-0.45,-0.49],[-0.44,-0.33],[-0.43,-0.51],[-0.42,-0.33],[-0.41,-0.42],[-0.40,-0.38],[-0.39,-0.44],[-0.38,-0.26],[-0.37,-0.47],[-0.36,-0.31],[-0.35,-0.35],[-0.34,-0.41],[-0.33,-0.25],[-0.32,-0.35],[-0.31,-0.27],[-0.30,-0.41],[-0.29,-0.22],[-0.28,-0.27],[-0.27,-0.33],[-0.26,-0.16],[-0.25,-0.34],[-0.24,-0.21],[-0.23,-0.25],[-0.22,-0.16],[-0.21,-0.33],[-0.20,-0.07],[-0.19,-0.23],[-0.18,-0.16],[-0.17,-0.25],[-0.16,-0.07],[-0.15,-0.16],[-0.14,-0.07],[-0.13,-0.26],[-0.12,-0.12],[-0.11,-0.17],[-0.10,0.01],[-0.09,-0.04],[-0.08,-0.18],[-0.07,-0.10],[-0.06,0.02],[-0.05,-0.02],[-0.04,-0.13],[-0.03,0.09],[-0.02,-0.07],[-0.01,0.00],[0.00,0.06],[0.01,-0.10],[0.02,0.00],[0.03,0.13],[0.04,-0.03],[0.05,0.09],
[0.06,-0.03],[0.07,0.17],[0.08,0.02],[0.09,0.10],[0.10,0.17],[0.11,0.00],[0.12,0.16],[0.13,0.10],[0.14,0.22],[0.15,0.08],[0.16,0.16],[0.17,0.22],[0.18,0.08],[0.19,0.31],[0.20,0.15],[0.21,0.23],[0.22,0.21],[0.23,0.32],[0.24,0.16],[0.25,0.36],[0.26,0.22],[0.27,0.33],[0.28,0.16],[0.29,0.32],[0.30,0.37],[0.31,0.29],[0.32,0.23],[0.33,0.37],[0.34,0.44],[0.35,0.29],[0.36,0.40],[0.37,0.30],[0.38,0.48],[0.39,0.37],[0.40,0.29],[0.41,0.47],[0.42,0.43],[0.43,0.38],[0.44,0.56],[0.45,0.36],[0.46,0.49],[0.47,0.55],[0.48,0.45],[0.49,0.39],[0.50,0.55],[0.51,0.62],[0.52,0.46],[0.53,0.53],[0.54,0.41],[0.55,0.62],[0.56,0.55],[0.57,0.66],[0.58,0.50],[0.59,0.61],[0.60,0.56],[0.61,0.74],[0.62,0.50],[0.63,0.69],[0.64,0.62],[0.65,0.68],
[0.66,0.59],[0.67,0.75],[0.68,0.65],[0.69,0.73],[0.70,0.59],[0.71,0.78],[0.72,0.73],[0.73,0.67],[0.74,0.84],[0.75,0.66],[0.76,0.79],[0.77,0.75],[0.78,0.84],[0.79,0.67],[0.80,0.93],[0.81,0.77],[0.82,0.84],[0.83,0.75],[0.84,0.93],[0.85,0.84],[0.86,0.93],[0.87,0.74],[0.88,0.88],[0.89,0.83],[0.90,1.01],[0.91,0.96],[0.92,0.82],[0.93,0.90],[0.94,1.02],[0.95,0.98],[0.96,0.87],[0.97,1.06],[0.98,0.93],[0.99,1.00],[1.00,1.06],[1.01,0.90],[1.02,1.00],[1.03,1.10],[1.04,0.97],[1.05,1.09]];
const dim5Fill = [[-1.135,-1.145],[-1.115,-1.015],[-1.095,-1.235],[-1.075,-1.025],[-1.055,-1.145],[-1.035,-0.915],[-1.015,-1.015],[-0.995,-1.105],[-0.975,-0.905],[-0.955,-0.995],[-0.935,-0.795],[-0.915,-0.995],[-0.895,-0.875],[-0.875,-1.005],[-0.855,-0.765],[-0.835,-0.865],[-0.815,-0.705],[-0.795,-0.865],[-0.775,-0.715],[-0.755,-0.855],[-0.735,-0.725],[-0.715,-0.585],[-0.695,-0.745],[-0.675,-0.795],[-0.655,-0.615],[-0.635,-0.545],[-0.615,-0.635],[-0.595,-0.735],[-0.575,-0.465],[-0.555,-0.615],[-0.535,-0.465],[-0.515,-0.605],[-0.495,-0.465],[-0.475,-0.355],[-0.455,-0.565],[-0.435,-0.385],[-0.415,-0.455],[-0.395,-0.295],[-0.375,-0.455],[-0.355,-0.355],[-0.335,-0.255],[-0.315,-0.435],[-0.295,-0.265],[-0.275,-0.145],[-0.255,-0.315],[-0.235,-0.245],[-0.215,-0.115],[-0.195,-0.335],[-0.175,-0.125],[-0.155,-0.245],[-0.135,-0.015],[-0.115,-0.115],[-0.095,-0.205],[-0.075,-0.005],[-0.055,-0.095],[-0.035,0.105],[-0.015,-0.095],[0.005,0.025],[0.025,-0.105],[0.045,0.135],[0.065,0.035],[0.085,0.195],[0.105,0.035],[0.125,0.185],[0.145,0.045],[0.165,0.175],[0.185,0.315],[0.205,0.155],[0.225,0.105],[0.245,0.285],[0.265,0.355],[0.285,0.265],[0.305,0.165],[0.325,0.435],[0.345,0.285],[0.365,0.435],[0.385,0.295],[0.405,0.435],[0.425,0.545],[0.445,0.335],[0.465,0.515],[0.485,0.445],[0.505,0.605],[0.525,0.445],[0.545,0.545],[0.565,0.645],[0.585,0.465],[0.605,0.635],[0.625,0.755],[0.645,0.585],[0.665,0.655],[0.685,0.785],[0.705,0.565],[0.725,0.775],[0.745,0.655],[0.765,0.885],[0.785,0.785],[0.805,0.695],[0.825,0.895],[0.845,0.805],[0.865,1.005],[0.885,0.805],[0.905,0.925],[0.925,0.795],[0.945,1.035],[0.965,0.935],[0.985,1.095],[1.005,0.935],[1.025,1.085],[1.045,0.945],
[-1.125,-1.125],[-1.105,-0.965],[-1.085,-1.145],[-1.065,-1.215],[-1.045,-0.965],[-1.025,-0.985],[-1.005,-1.125],[-0.985,-0.885],[-0.965,-0.995],[-0.945,-0.795],[-0.925,-1.005],[-0.905,-0.895],[-0.885,-1.045],[-0.865,-0.745],[-0.845,-0.865],[-0.825,-0.765],[-0.805,-0.915],[-0.785,-0.695],[-0.765,-0.905],[-0.745,-0.615],[-0.725,-0.775],[-0.705,-0.685],[-0.685,-0.775],[-0.665,-0.505],[-0.645,-0.715],[-0.625,-0.575],[-0.605,-0.735],[-0.585,-0.475],[-0.565,-0.575],[-0.545,-0.645],[-0.525,-0.375],[-0.505,-0.545],[-0.485,-0.645],[-0.465,-0.375],[-0.445,-0.425],[-0.425,-0.535],[-0.405,-0.275],[-0.385,-0.455],[-0.365,-0.315],[-0.345,-0.485],[-0.325,-0.215],[-0.305,-0.315],[-0.285,-0.375],[-0.265,-0.105],[-0.245,-0.295],[-0.225,-0.155],[-0.205,-0.335],[-0.185,-0.155],[-0.165,-0.045],[-0.145,-0.245],[-0.125,-0.125],[-0.105,0.035],[-0.085,-0.145],[-0.065,-0.215],[-0.045,0.035],[-0.025,0.015],[-0.005,-0.125],[0.015,0.115],[0.035,0.005],[0.055,0.205],[0.075,-0.005],[0.095,0.105],[0.115,-0.045],[0.135,0.255],[0.155,0.135],[0.175,0.235],[0.195,0.085],[0.215,0.305],[0.235,0.095],[0.255,0.385],[0.275,0.225],[0.295,0.315],[0.315,0.225],[0.335,0.495],[0.355,0.285],[0.375,0.425],[0.395,0.265],[0.415,0.525],[0.435,0.425],[0.455,0.355],[0.475,0.625],[0.495,0.455],[0.515,0.355],[0.535,0.625],[0.555,0.575],[0.575,0.465],[0.595,0.725],[0.615,0.545],[0.635,0.685],[0.655,0.515],[0.675,0.785],[0.695,0.685],[0.715,0.625],[0.735,0.895],[0.755,0.705],[0.775,0.845],[0.795,0.665],[0.815,0.845],[0.835,0.955],[0.855,0.755],[0.875,0.875],[0.895,1.035],[0.915,0.855],[0.935,0.785],[0.955,1.035],[0.975,1.015],[0.995,0.875],[1.015,1.115]];
const dim5Core = [[-1.115,-1.205],[-1.095,-1.035],[-1.075,-1.105],[-1.055,-0.975],[-1.035,-1.105],[-1.015,-1.005],[-0.995,-0.945],[-0.975,-1.055],[-0.955,-0.925],[-0.935,-0.955],[-0.915,-0.845],[-0.895,-0.945],[-0.875,-0.875],[-0.855,-0.765],[-0.835,-0.895],[-0.815,-0.795],[-0.795,-0.835],[-0.775,-0.715],[-0.755,-0.845],[-0.735,-0.695],[-0.715,-0.665],[-0.695,-0.725],[-0.675,-0.595],[-0.655,-0.725],[-0.635,-0.625],[-0.615,-0.705],[-0.595,-0.535],[-0.575,-0.595],[-0.555,-0.465],[-0.535,-0.585],[-0.515,-0.485],[-0.495,-0.575],[-0.475,-0.475],[-0.455,-0.385],[-0.435,-0.475],[-0.415,-0.395],[-0.395,-0.455],[-0.375,-0.285],[-0.355,-0.365],[-0.335,-0.295],[-0.315,-0.405],[-0.295,-0.235],[-0.275,-0.305],[-0.255,-0.175],[-0.235,-0.305],[-0.215,-0.205],[-0.195,-0.145],[-0.175,-0.255],[-0.155,-0.125],[-0.135,-0.155],[-0.115,-0.045],[-0.095,-0.145],[-0.075,-0.075],[-0.055,0.035],[-0.035,-0.095],[-0.015,0.005],[0.005,-0.035],[0.025,0.085],[0.045,-0.045],[0.065,0.105],[0.085,0.135],[0.105,0.075],[0.125,0.205],[0.145,0.075],[0.165,0.175],[0.185,0.095],[0.205,0.265],[0.225,0.205],[0.245,0.335],[0.265,0.215],[0.285,0.315],[0.305,0.225],[0.325,0.325],[0.345,0.415],[0.365,0.325],[0.385,0.405],[0.405,0.345],[0.425,0.515],[0.445,0.435],[0.465,0.505],[0.485,0.395],[0.505,0.565],[0.525,0.495],[0.545,0.625],[0.565,0.495],[0.585,0.595],[0.605,0.655],[0.625,0.545],[0.645,0.675],[0.665,0.645],[0.685,0.755],[0.705,0.655],[0.725,0.725],[0.745,0.835],[0.765,0.705],[0.785,0.805],[0.805,0.765],[0.825,0.885],[0.845,0.755],[0.865,0.905],[0.885,0.935],[0.905,0.875],[0.925,1.005],[0.945,0.875],[0.965,0.975],[0.985,0.895],[1.005,1.065]];

const FONT = '"Liberation Sans", Arial, Helvetica, sans-serif';
Chart.defaults.font.family = FONT;
Chart.defaults.color = "#000";

// R-style box around the plot region
const boxPlugin = {
  id: "box",
  afterDatasetsDraw(chart) {
    const a = chart.chartArea, c = chart.ctx;
    c.save();
    c.strokeStyle = "#000";
    c.lineWidth = 1.3;
    c.strokeRect(a.left, a.top, a.right - a.left, a.bottom - a.top);
    c.restore();
  },
};

function fmt(v) {
  return (v < 0 ? "\u2212" : "") + Math.abs(v).toFixed(1);
}

// outside tick marks only, no grid inside the plot
const tickGrid = { display: true, drawOnChartArea: false, drawTicks: true, tickLength: 6, color: "#000", lineWidth: 1 };

function drawPanel(id, title, pts) {
  new Chart(document.getElementById(id), {
    type: "scatter",
    data: {
      datasets: [
        { type: "line", data: diagonal.map(v => ({ x: v, y: v })), borderColor: "#000", borderWidth: 1.3, pointRadius: 0, order: 1 },
        { data: pts.map(p => ({ x: p[0], y: p[1] })), pointRadius: 2.6, pointBorderWidth: 1.7,
          pointBorderColor: "#000", pointBackgroundColor: "rgba(0,0,0,0)", order: 0 },
      ],
    },
    options: {
      responsive: false, animation: false, devicePixelRatio: 1,
      layout: { padding: { right: 6 } },
      plugins: {
        legend: { display: false }, tooltip: { enabled: false },
        title: { display: true, text: title, fullSize: false, color: "#000",
          font: { size: 13, weight: "bold" }, padding: { top: 0, bottom: 16.4 } },
      },
      scales: {
        x: {
          type: "linear", min: axisMin, max: axisMax,
          afterBuildTicks: s => { s.ticks = tickValues.map(v => ({ value: v })); },
          afterFit: s => { s.height = 51; },
          grid: tickGrid, border: { display: false },
          ticks: { autoSkip: false, maxRotation: 0, padding: 6, font: { size: 10 }, color: "#000", callback: v => fmt(v) },
          title: { display: true, text: xTitle, color: "#000", font: { size: 10 }, padding: { top: 0, bottom: 2 } },
        },
        y: {
          type: "linear", min: axisMin, max: axisMax,
          afterBuildTicks: s => { s.ticks = tickValues.map(v => ({ value: v })); },
          afterFit: s => { s.width = 48; },
          grid: tickGrid, border: { display: false },
          ticks: { autoSkip: false, padding: 5, font: { size: 10 }, color: "#000", callback: v => fmt(v) },
          title: { display: true, text: yTitle, color: "#000", font: { size: 10 }, padding: { top: 0, bottom: 0 } },
        },
      },
    },
    plugins: [boxPlugin],
  });
}

drawPanel("p1", panelTitles[0], dim1.concat(dim1Fill, dim1Core));
drawPanel("p2", panelTitles[1], dim2.concat(dim2Fill, dim2Core));
drawPanel("p3", panelTitles[2], dim3.concat(dim3Fill, dim3Core));
drawPanel("p4", panelTitles[3], dim4.concat(dim4Fill, dim4Core));
drawPanel("p5", panelTitles[4], dim5.concat(dim5Fill, dim5Core));
</script>
</body>
</html>
